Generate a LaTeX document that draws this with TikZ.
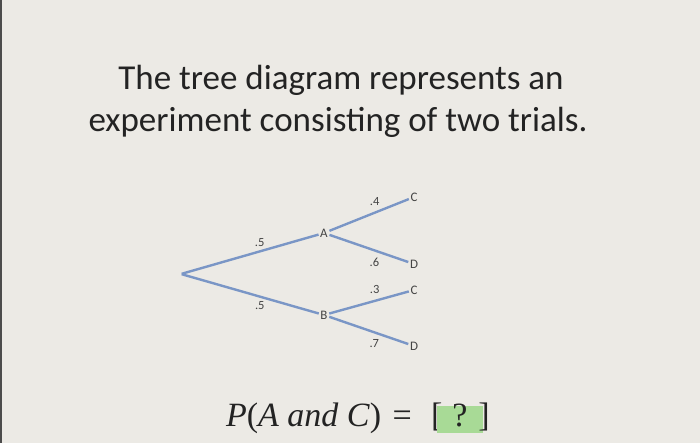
\documentclass[tikz,border=0pt]{standalone}
\usepackage{fontspec}
\setmainfont{Carlito}
\newfontfamily\eqfont{Liberation Serif}
\definecolor{paper}{RGB}{236,234,229}
\definecolor{branch}{RGB}{122,150,198}
\definecolor{answer}{RGB}{168,218,150}
\definecolor{ink}{RGB}{35,35,35}
\tikzset{
	% Two label styles for the tree: outcomes and branch probabilities
	outcome node/.style={inner sep=1.5,text=ink!85,font=\fontsize{13}{15}\selectfont},
	prob label/.style={text=ink!85,font=\fontsize{12.5}{14}\selectfont,pos=.57},
	title text/.style={anchor=base,text=ink,font=\fontsize{35}{42}\selectfont},
	eq text/.style={inner sep=0,text=ink,font=\eqfont\fontsize{34}{40}\selectfont}
}

\begin{document}
\begin{tikzpicture}[x=1pt,y=-1pt]
	\fill[paper] (0,0) rectangle (700,443);
	\useasboundingbox (0,0) rectangle (700,443);
	\draw[gray!60!black,line width=1.5] (0.75,0) -- (0.75,443);
	
	% Question text
	\node(title1)[title text] at (341,90) {The tree diagram represents an};
	\node(title2)[title text] at (338,131.7) {experiment consisting of two trials.};
	
	% Specify spacing for each level of the tree
	\begin{scope}[grow'=right,edge from parent/.style={draw=branch,line width=2.4}]
		\tikzstyle{level 1}=[level distance=143pt,sibling distance=82pt]
		\tikzstyle{level 2}=[level distance=90pt,sibling distance=62pt]
		
		\node(0)[inner sep=0] at (181,274) {}
		child{node(0-1)[outcome node]{A}
			child[yshift=5pt]{node(0-1-1)[outcome node]{C} edge from parent node[prob label,above=3pt]{.4}}
			child{node(0-1-2)[outcome node]{D} edge from parent node[prob label,below=3pt]{.6}}
			edge from parent node[prob label,above]{.5}}
		child{node(0-2)[outcome node]{B}
			child[yshift=-6pt]{node(0-2-1)[outcome node]{C} edge from parent node[prob label,above=3pt]{.3}}
			child{node(0-2-2)[outcome node]{D} edge from parent node[prob label,below=3pt]{.7}}
			edge from parent node[prob label,below]{.5}}
		;
	\end{scope}
	
	% Question with the answer box
	\node(lhs)[eq text,anchor=base east] at (412,426.7) {\textit{P}(\textit{A and C})\,\,=};
	\node(lb)[eq text,anchor=base west] at (431,426.7) {[};
	\node(qbox)[eq text,fill=answer,minimum width=46,minimum height=27,text height=20,text depth=5] at (460,419.2) {?};
	\node(rb)[eq text,anchor=base east] at (490,426.7) {]};
\end{tikzpicture}
\end{document}
